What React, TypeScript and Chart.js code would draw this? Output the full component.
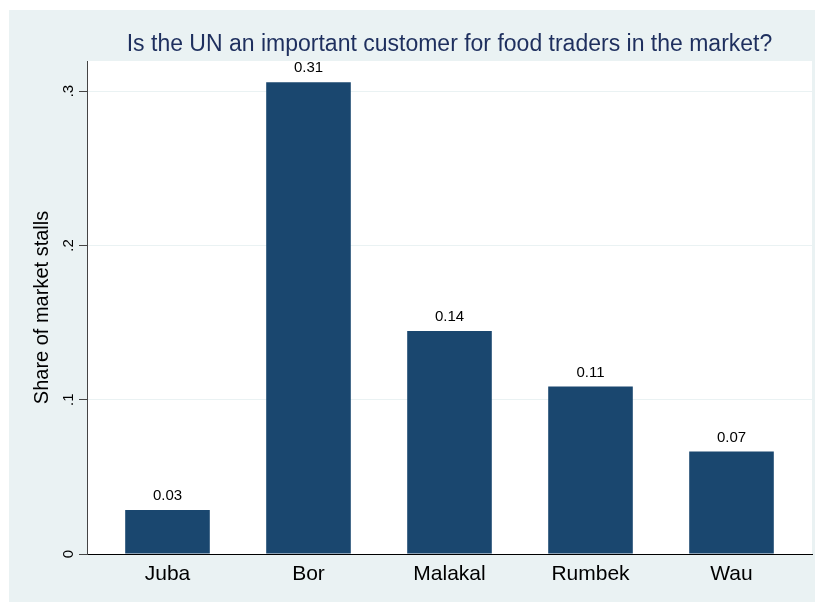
import React, { useEffect, useRef } from "react";
import { Chart, registerables } from "chart.js";

Chart.register(...registerables);

const TITLE = "Is the UN an important customer for food traders in the market?";
const Y_TITLE = "Share of market stalls";
const CATEGORIES = ["Juba", "Bor", "Malakal", "Rumbek", "Wau"];
const SHARES = [0.0285, 0.3057, 0.1445, 0.1085, 0.0665];
const VALUE_LABELS = ["0.03", "0.31", "0.14", "0.11", "0.07"];
const Y_TICKS = [0, 0.1, 0.2, 0.3];
const Y_TICK_LABELS = ["0", ".1", ".2", ".3"];

const FONT = "'Liberation Sans', Arial, Helvetica, sans-serif";
const BG = "#eaf2f3";
const BAR = "#1a476f";

const bgPlugin = {
  id: "stataBg",
  beforeDraw(chart: any) {
    const { ctx, chartArea } = chart;
    ctx.save();
    ctx.fillStyle = BG;
    ctx.fillRect(0, 0, chart.width, chart.height);
    ctx.fillStyle = "#ffffff";
    ctx.fillRect(
      chartArea.left,
      chartArea.top,
      chartArea.right - chartArea.left,
      chartArea.bottom - chartArea.top
    );
    ctx.restore();
  },
};

const valuePlugin = {
  id: "valueLabels",
  afterDatasetsDraw(chart: any) {
    const { ctx } = chart;
    const meta = chart.getDatasetMeta(0);
    ctx.save();
    ctx.fillStyle = "#000000";
    ctx.font = `15px ${FONT}`;
    ctx.textAlign = "center";
    ctx.textBaseline = "middle";
    meta.data.forEach((bar: any, i: number) => {
      ctx.fillText(VALUE_LABELS[i], bar.x, bar.y - 14);
    });
    ctx.restore();
  },
};

export default function App() {
  const ref = useRef<HTMLCanvasElement | null>(null);

  useEffect(() => {
    document.body.style.overflow = "hidden";
    const canvas = ref.current;
    if (!canvas) return;
    const chart = new Chart(canvas, {
      type: "bar",
      data: {
        datasets: [
          {
            data: SHARES.map((v, i) => ({ x: i, y: v })),
            backgroundColor: BAR,
            borderWidth: 0,
            barPercentage: 0.6,
            categoryPercentage: 1,
          },
        ],
      },
      options: {
        responsive: false,
        animation: false,
        devicePixelRatio: 1,
        layout: { padding: { left: 0, right: 6, top: 0, bottom: 0 } },
        plugins: {
          legend: { display: false },
          tooltip: { enabled: false },
          title: {
            display: true,
            text: TITLE,
            color: "#1e2f5e",
            font: { family: FONT, size: 23, weight: "normal" },
            padding: { top: 21.2, bottom: 2.2 },
            fullSize: false,
          },
        },
        scales: {
          x: {
            type: "linear",
            offset: false,
            min: -0.5709,
            max: 4.5709,
            afterBuildTicks: (axis: any) => {
              axis.ticks = CATEGORIES.map((_, i) => ({ value: i }));
            },
            afterFit: (axis: any) => {
              axis.height = 48;
            },
            grid: { display: false, drawTicks: false, offset: false },
            border: { display: true, color: "#000000", width: 1 },
            ticks: {
              autoSkip: false,
              maxRotation: 0,
              minRotation: 0,
              padding: 8,
              color: "#000000",
              font: { family: FONT, size: 21 },
              callback: (v: any) => {
                const i = Math.round(Number(v));
                return Math.abs(Number(v) - i) < 1e-6 && CATEGORIES[i] !== undefined ? CATEGORIES[i] : "";
              },
            },
          },
          y: {
            type: "linear",
            min: 0,
            max: 0.3195,
            afterBuildTicks: (axis: any) => {
              axis.ticks = Y_TICKS.map((v) => ({ value: v }));
            },
            afterFit: (axis: any) => {
              axis.width = 78;
            },
            grid: {
              color: (c: any) => (c.tick && c.tick.value === 0 ? "rgba(0,0,0,0)" : BG),
              tickColor: "#444444",
              tickLength: 8,
              lineWidth: 1,
            },
            border: { display: true, color: "#444444", width: 1 },
            title: {
              display: true,
              text: Y_TITLE,
              color: "#000000",
              font: { family: FONT, size: 20 },
              padding: { top: 21.5, bottom: 0 },
            },
            ticks: {
              minRotation: 90,
              maxRotation: 90,
              crossAlign: "center",
              padding: 4,
              color: "#000000",
              font: { family: FONT, size: 15 },
              callback: (v: any) => {
                const idx = Y_TICKS.findIndex((t) => Math.abs(t - Number(v)) < 1e-9);
                return idx >= 0 ? Y_TICK_LABELS[idx] : "";
              },
            },
          },
        },
      },
      plugins: [bgPlugin, valuePlugin],
    } as any);
    return () => chart.destroy();
  }, []);

  return (
    <div style={{ paddingTop: 2, paddingLeft: 1 }}>
      <canvas ref={ref} width={809} height={592} style={{ display: "block", width: 809, height: 592 }} />
    </div>
  );
}
